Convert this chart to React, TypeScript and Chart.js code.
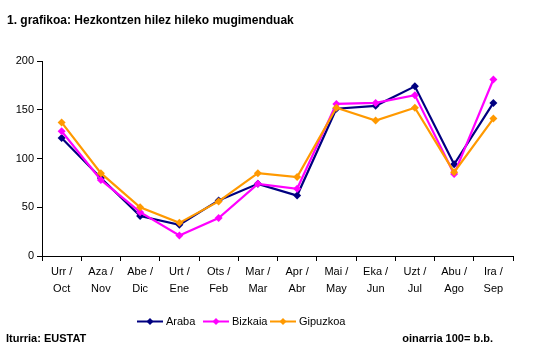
import React, { useEffect, useRef } from "react";
import { Chart, registerables } from "chart.js";

Chart.register(...registerables);

const categories: string[][] = [
  ["Urr /", "Oct"], ["Aza /", "Nov"], ["Abe /", "Dic"], ["Urt /", "Ene"],
  ["Ots /", "Feb"], ["Mar /", "Mar"], ["Apr /", "Abr"], ["Mai /", "May"],
  ["Eka /", "Jun"], ["Uzt /", "Jul"], ["Abu /", "Ago"], ["Ira /", "Sep"],
];
const araba = [121, 80, 41, 32, 57, 74, 62, 151, 154, 174, 94, 157];
const bizkaia = [128, 78, 45, 21, 39, 74, 69, 156, 157, 165, 84, 181];
const gipuzkoa = [137, 85, 50, 34, 56, 85, 81, 152, 139, 152, 86, 141];
const seriesNames = ["Araba", "Bizkaia", "Gipuzkoa"];
const colors = ["#000080", "#FF00FF", "#FF9900"];
const yTicks = [0, 50, 100, 150, 200];

const FONT = "Arial, 'Liberation Sans', sans-serif";

const legendPlugin = {
  id: "customLegend",
  afterDraw(chart: any) {
    const ctx = chart.ctx;
    const items = [
      { x0: 137, text: seriesNames[0], color: colors[0] },
      { x0: 203, text: seriesNames[1], color: colors[1] },
      { x0: 270, text: seriesNames[2], color: colors[2] },
    ];
    const y = 321.5;
    ctx.save();
    items.forEach((it) => {
      ctx.strokeStyle = it.color;
      ctx.lineWidth = 2;
      ctx.beginPath();
      ctx.moveTo(it.x0, y);
      ctx.lineTo(it.x0 + 26, y);
      ctx.stroke();
      ctx.fillStyle = it.color;
      const cx = it.x0 + 13;
      ctx.beginPath();
      ctx.moveTo(cx, y - 3.5);
      ctx.lineTo(cx + 3.5, y);
      ctx.lineTo(cx, y + 3.5);
      ctx.lineTo(cx - 3.5, y);
      ctx.closePath();
      ctx.fill();
      ctx.fillStyle = "#000";
      ctx.font = `11px ${FONT}`;
      ctx.textBaseline = "middle";
      ctx.textAlign = "left";
      ctx.fillText(it.text, it.x0 + 29, y);
    });
    ctx.restore();
  },
};

export default function App() {
  const ref = useRef<HTMLCanvasElement>(null);
  useEffect(() => {
    if (!ref.current) return;
    const mk = (label: string, data: number[], color: string, order: number) => ({
      label,
      data,
      borderColor: color,
      backgroundColor: color,
      borderWidth: 2.2,
      pointStyle: "rectRot",
      pointRadius: 4,
      pointHoverRadius: 4,
      pointBorderWidth: 0,
      tension: 0,
      order,
    });
    const chart = new Chart(ref.current, {
      type: "line",
      data: {
        labels: categories,
        datasets: [
          mk(seriesNames[0], araba, colors[0], 2),
          mk(seriesNames[1], bizkaia, colors[1], 1),
          mk(seriesNames[2], gipuzkoa, colors[2], 0),
        ],
      },
      options: {
        responsive: false,
        animation: false,
        devicePixelRatio: 1,
        layout: { padding: { left: 0, top: 61, right: 24, bottom: 0 } },
        plugins: { legend: { display: false }, title: { display: false }, tooltip: { enabled: false } },
        scales: {
          x: {
            type: "category",
            offset: true,
            grid: { offset: true, drawOnChartArea: false, drawTicks: true, tickLength: 5, color: "#000" },
            border: { color: "#000", width: 1 },
            ticks: {
              color: "#000",
              font: { family: FONT, size: 11, lineHeight: 1.6 },
              maxRotation: 0,
              autoSkip: false,
              padding: 2,
            },
            afterFit: (s: any) => { s.height = 359 - 256; },
          },
          y: {
            min: 0,
            max: 200,
            afterBuildTicks: (s: any) => { s.ticks = yTicks.map((v) => ({ value: v })); },
            grid: { drawOnChartArea: false, drawTicks: true, tickLength: 5, color: "#000" },
            border: { color: "#000", width: 1 },
            ticks: { color: "#000", font: { family: FONT, size: 11 }, padding: 3 },
            afterFit: (s: any) => { s.width = 42; },
          },
        },
      } as any,
      plugins: [legendPlugin],
    });
    return () => chart.destroy();
  }, []);

  const textStyle: React.CSSProperties = {
    position: "absolute",
    fontFamily: FONT,
    fontWeight: "bold",
    fontSize: 11,
    color: "#000",
    whiteSpace: "nowrap",
    lineHeight: "13px",
  };
  return (
    <div style={{ position: "fixed", left: 0, top: 0, width: 537, height: 359, background: "#fff", overflow: "hidden" }}>
      <canvas ref={ref} width={537} height={359} style={{ position: "absolute", left: 0, top: 0, width: 537, height: 359 }} />
      <div style={{ ...textStyle, fontSize: 12, lineHeight: "14px", left: 7, top: 13 }}>1. grafikoa: Hezkontzen hilez hileko mugimenduak</div>
      <div style={{ ...textStyle, left: 6, top: 332 }}>Iturria: EUSTAT</div>
      <div style={{ ...textStyle, right: 44, top: 332 }}>oinarria 100= b.b.</div>
    </div>
  );
}
